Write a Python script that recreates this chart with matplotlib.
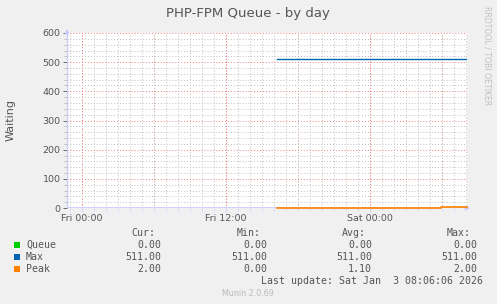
import matplotlib
matplotlib.use('Agg')
import matplotlib.pyplot as plt
import numpy as np
from matplotlib.ticker import MultipleLocator

# hours since Fri 00:00
t_start = -1.23
t_end = 32.1
xtick_pos = [0, 12, 24]
xtick_labels = ['Fri 00:00', 'Fri 12:00', 'Sat 00:00']

queue_t = [16.25, 32.1]
queue_v = [0, 0]
max_t = [16.25, 32.1]
max_v = [511, 511]
peak_t = [16.25, 29.9, 29.9, 32.1]
peak_v = [0, 0, 2, 2]

series = ['Queue', 'Max', 'Peak']
colors = ['#00cc00', '#0066b3', '#ff8000']
cur = ['0.00', '511.00', '2.00']
vmin = ['0.00', '511.00', '0.00']
avg = ['0.00', '511.00', '1.10']
vmax = ['0.00', '511.00', '2.00']

bg = '#f0f0f0'
txt = '#555555'
mono = 'DejaVu Sans Mono'

fig = plt.figure(figsize=(4.97, 3.04), dpi=100, facecolor=bg)
ax = fig.add_axes([67 / 497, 96 / 304, 400 / 497, 175 / 304])
ax.set_facecolor('white')
ax.set_xlim(t_start, t_end)
ax.set_ylim(0, 600)

# grid
ax.xaxis.set_major_locator(MultipleLocator(6))
ax.xaxis.set_minor_locator(MultipleLocator(1))
ax.yaxis.set_major_locator(MultipleLocator(100))
ax.yaxis.set_minor_locator(MultipleLocator(20))
ax.grid(which='minor', color='#c0c0c0', linestyle=(0, (1, 2)), linewidth=0.7)
ax.grid(which='major', color='#f08080', linestyle=(0, (1, 2)), linewidth=0.7)
ax.set_axisbelow(True)

ax.set_xticks(xtick_pos, minor=False)
ax.set_xticks([h for h in range(-1, 33)], minor=True)
for xv in np.arange(-6, 36, 6):
    if t_start < xv < t_end:
        ax.axvline(xv, color='#f08080', linestyle=(0, (1, 2)), linewidth=0.7, zorder=0.5)
ax.set_xticklabels(xtick_labels)
ax.set_yticks(range(0, 601, 100))
ax.set_yticklabels([str(v) for v in range(0, 601, 100)])

ax.tick_params(axis='both', which='major', labelsize=6.8, colors=txt, length=3,
               width=0.6, pad=1.5)
ax.tick_params(axis='both', which='minor', length=2, width=0.5, colors='#aaaaaa')
ax.tick_params(axis='x', which='both', color='#ccccff')
for s in ax.spines.values():
    s.set_visible(False)

# queue drawn under the axis line, as rrdtool does
ax.plot(queue_t, queue_v, color=colors[0], linewidth=0.6, zorder=0.8)
ax.axhline(0, color='#c8c8ff', linewidth=1.2, zorder=1)
ax.axvline(t_start, color='#c8c8ff', linewidth=1, zorder=1)
ax.annotate('', xy=(t_end + 0.45, 0), xytext=(t_end - 0.1, 0),
            arrowprops=dict(arrowstyle='-|>', color='#c8c8ff', lw=0.8, mutation_scale=6),
            annotation_clip=False)
ax.annotate('', xy=(t_start, 622), xytext=(t_start, 598),
            arrowprops=dict(arrowstyle='-|>', color='#c8c8ff', lw=0.8, mutation_scale=6),
            annotation_clip=False)

ax.plot(max_t, max_v, color=colors[1], linewidth=1.0, zorder=3)
ax.plot(peak_t, peak_v, color=colors[2], linewidth=1.2, zorder=4, clip_on=False)

fig.text(11 / 497, 1 - 120 / 304, 'Waiting', rotation=90, ha='center', va='center',
         fontsize=8, color=txt)

fig.text(248 / 497, 1 - 13 / 304, 'PHP-FPM Queue - by day', ha='center', va='center',
         fontsize=9.5, color=txt)
fig.text(487 / 497, 1 - 6 / 304, 'RRDTOOL / TOBI OETIKER', ha='center', va='top',
         rotation=270, fontsize=5.6, color='#c0c0c0')

# legend table
def fy(y):
    return 1 - y / 304

fs = 7.15
col_ends = [161, 267, 372, 477]
heads = ['Cur:', 'Min:', 'Avg:', 'Max:']
for xe, h in zip(col_ends, heads):
    fig.text((xe - 6) / 497, fy(232.5), h, ha='right', va='center', fontsize=fs,
             family=mono, color=txt)

for i, name in enumerate(series):
    y = 244.5 + 12 * i
    fig.patches.append(plt.Rectangle((14 / 497, fy(y + 3)), 6 / 497, 6 / 304,
                                     transform=fig.transFigure, facecolor=colors[i],
                                     edgecolor='none'))
    fig.text(26 / 497, fy(y), name, ha='left', va='center', fontsize=fs,
             family=mono, color=txt)
    for xe, vals in zip(col_ends, [cur, vmin, avg, vmax]):
        fig.text(xe / 497, fy(y), vals[i], ha='right', va='center', fontsize=fs,
                 family=mono, color=txt)

fig.text(483 / 497, fy(280.5), 'Last update: Sat Jan  3 08:06:06 2026', ha='right',
         va='center', fontsize=fs, family=mono, color=txt)
fig.text(248 / 497, fy(293.5), 'Munin 2.0.69', ha='center', va='center',
         fontsize=5.8, color='#bbbbbb')

fig.savefig('out.png', dpi=100, facecolor=bg)
